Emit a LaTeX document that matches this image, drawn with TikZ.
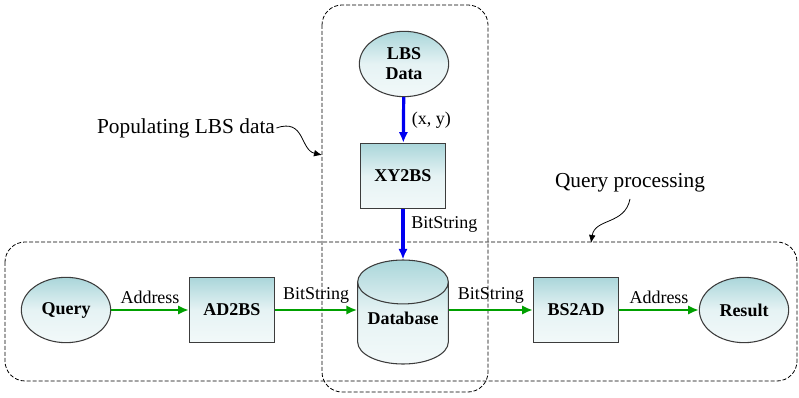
\documentclass[tikz,border=0pt]{standalone}
\usepackage{fontspec}
\setmainfont{Liberation Serif}
\usepackage{tikz}
\usetikzlibrary{arrows.meta,positioning,shapes.geometric}
\definecolor{boxTeal}{RGB}{170,214,218}
\definecolor{boxEdge}{RGB}{60,60,60}
\definecolor{flowGreen}{RGB}{0,160,0}
\definecolor{flowBlue}{RGB}{0,0,240}
\tikzset{
  flow/box/.style={draw=boxEdge, thick, top color=boxTeal, bottom color=boxTeal!15, middle color=boxTeal!30,
    minimum width=64pt, minimum height=49pt, align=center, font=\fontsize{13.5}{15}\selectfont\bfseries},
  flow/term/.style={flow/box, ellipse, minimum width=67pt, minimum height=49pt},
  flow/db/.style={flow/box, cylinder, shape border rotate=90, aspect=0.55, minimum width=68pt, minimum height=78pt},
  flow/dbtext/.style={font=\fontsize{13.5}{15}\selectfont\bfseries, yshift=7.5pt},
  flow/region/.style={draw, semithick, dash pattern=on 3pt off 1.5pt, rounded corners=15pt},
  flow/green/.style={-{Latex[length=8pt,width=7pt]}, line width=1.8pt, draw=flowGreen},
  flow/blue/.style={-{Latex[length=8pt,width=7pt]}, line width=2.4pt, draw=flowBlue},
  flow/lbl/.style={font=\fontsize{13.5}{15}\selectfont, inner sep=1pt},
  flow/notetext/.style={font=\fontsize{16}{18}\selectfont, inner sep=1pt},
  flow/note/.style={-{Latex[length=6pt,width=5pt]}, semithick}
}
\begin{document}
\begin{tikzpicture}[x=0.75pt, y=-0.75pt]
  \useasboundingbox (0,0) rectangle (799,398);

  % dashed regions
  \draw[flow/region] (322,5) rectangle (488,392);
  \draw[flow/region] (5,242) rectangle (797,381);

  % nodes
  \node[flow/term] (lbs) at (404,64) {LBS\\Data};
  \node[flow/box] (xy2bs) at (403,176) {XY2BS};
  \node[flow/db, label={[flow/dbtext]center:Database}] (db) at (403,328) {\phantom{Database}};
  \node[flow/term] (query) at (66,310) {Query};
  \node[flow/box] (ad2bs) at (232,310) {AD2BS};
  \node[flow/box] (bs2ad) at (576,310) {BS2AD};
  \node[flow/term] (result) at (744,310) {Result};

  % flows
  \draw[flow/blue] (lbs) -- (xy2bs) node[flow/lbl, midway, right=4pt] {(x, y)};
  \draw[flow/blue] (xy2bs) -- (db.top) node[flow/lbl, pos=0.3, right=4pt] {BitString};
  \draw[flow/green] (query) -- (ad2bs) node[flow/lbl, midway, above=3pt] {Address};
  \draw[flow/green] (ad2bs) -- (db.west |- ad2bs) node[flow/lbl, midway, above=3pt] {BitString};
  \draw[flow/green] (db.east |- bs2ad) -- (bs2ad) node[flow/lbl, midway, above=3pt] {BitString};
  \draw[flow/green] (bs2ad) -- (result) node[flow/lbl, midway, above=3pt] {Address};

  % region notes
  \node[flow/notetext] (popnote) at (186,128) {Populating LBS data};
  \coordinate (popend) at (322,155);
  \draw[flow/note] (popnote.east) .. controls (305,118) and (300,150) .. (popend);
  \node[flow/notetext] (qnote) at (630,183) {Query processing};
  \coordinate (qend) at (591,243);
  \draw[flow/note] (qnote.south) ++(0,5) .. controls (625,225) and (595,218) .. (qend);
\end{tikzpicture}
\end{document}
